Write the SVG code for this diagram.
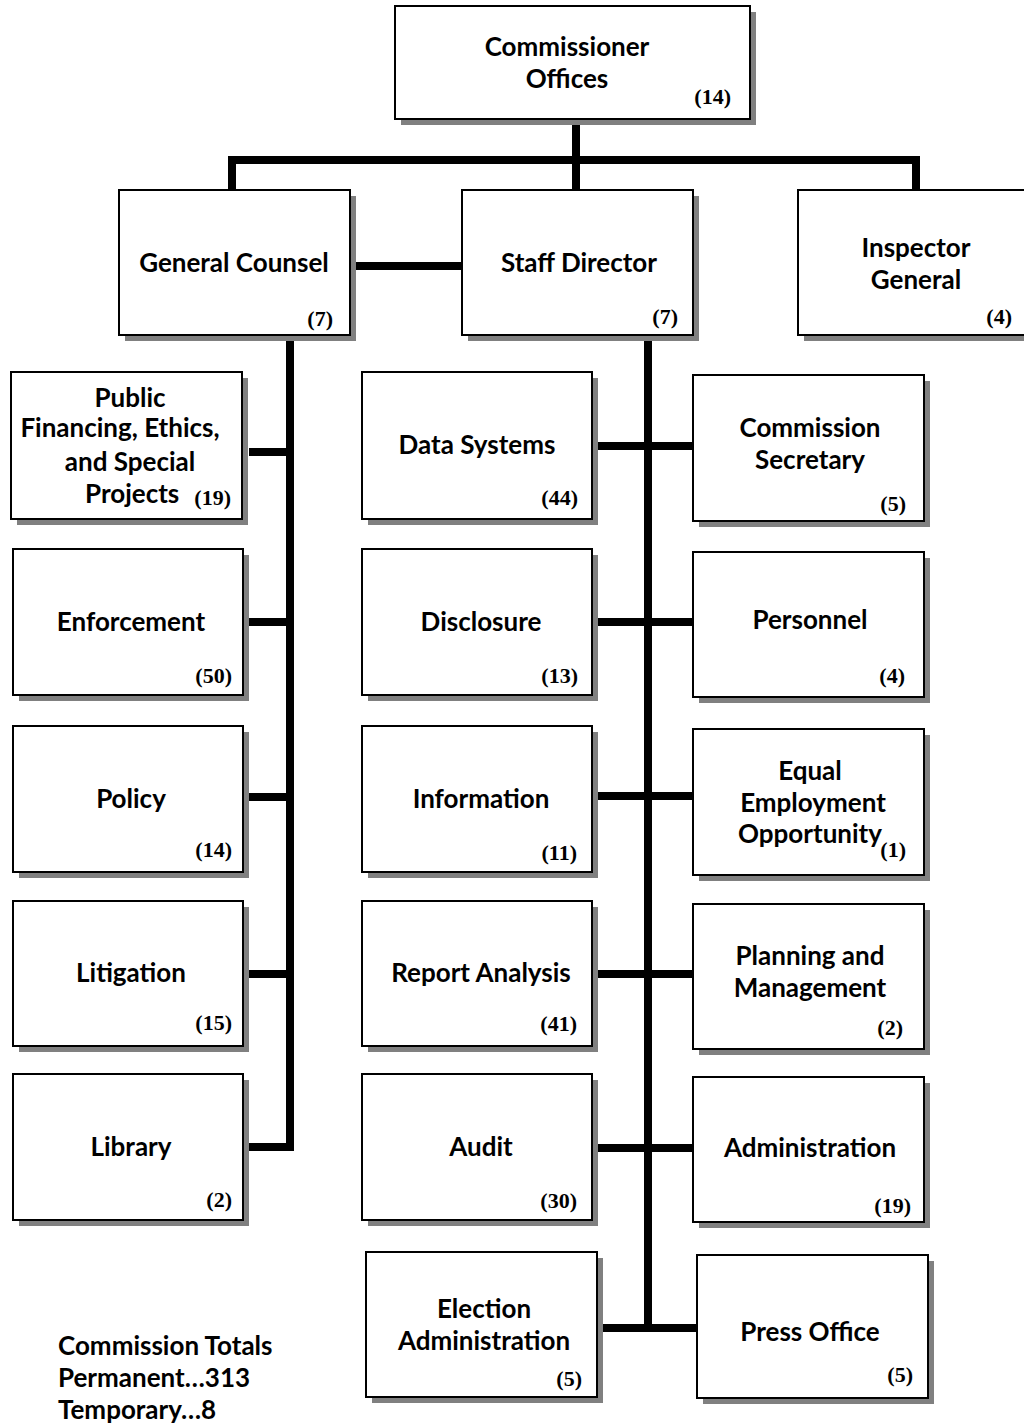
<svg xmlns="http://www.w3.org/2000/svg" width="1024" height="1426" viewBox="0 0 1024 1426">
<style>
.sh{fill:#808080}
.bx{fill:#fff;stroke:#000;stroke-width:2}
.t{font-family:Lato,"Open Sans","Liberation Sans",sans-serif;font-weight:bold;font-size:26px;fill:#000;text-anchor:middle}
.tl{font-family:Lato,"Open Sans","Liberation Sans",sans-serif;font-weight:bold;font-size:26px;fill:#000}
.n{font-family:"Liberation Serif",serif;font-weight:bold;font-size:22px;fill:#000;text-anchor:end}
.c{stroke:#000;stroke-width:8;fill:none}
</style>
<rect width="1024" height="1426" fill="#fff"/>
<g id="connectors">
<line class="c" x1="576" y1="119" x2="576" y2="190"/>
<polyline class="c" points="232,190 232,160 916,160 916,190"/>
<line class="c" x1="350" y1="266" x2="462" y2="266"/>
<polyline class="c" points="290,335 290,1147 249,1147"/>
<line class="c" x1="249" y1="452" x2="290" y2="452"/>
<line class="c" x1="249" y1="622" x2="290" y2="622"/>
<line class="c" x1="249" y1="797" x2="290" y2="797"/>
<line class="c" x1="249" y1="974" x2="290" y2="974"/>
<line class="c" x1="648" y1="335" x2="648" y2="1328"/>
<line class="c" x1="598" y1="446" x2="693" y2="446"/>
<line class="c" x1="598" y1="622" x2="693" y2="622"/>
<line class="c" x1="598" y1="796" x2="693" y2="796"/>
<line class="c" x1="598" y1="974" x2="693" y2="974"/>
<line class="c" x1="598" y1="1148" x2="693" y2="1148"/>
<line class="c" x1="603" y1="1328" x2="697" y2="1328"/>
</g>
<g id="commissioner">
<rect class="sh" x="401" y="12" width="355" height="113"/>
<rect class="bx" x="395" y="6" width="355" height="113"/>
<text class="t" x="567" y="56">Commissioner</text>
<text class="t" x="567" y="88">Offices</text>
<text class="n" x="731" y="104">(14)</text>
</g>
<g id="general-counsel">
<rect class="sh" x="125" y="196" width="231" height="145"/>
<rect class="bx" x="119" y="190" width="231" height="145"/>
<text class="t" x="234" y="272">General Counsel</text>
<text class="n" x="333" y="326">(7)</text>
</g>
<g id="staff-director">
<rect class="sh" x="468" y="196" width="231" height="145"/>
<rect class="bx" x="462" y="190" width="231" height="145"/>
<text class="t" x="579" y="272">Staff Director</text>
<text class="n" x="678" y="324">(7)</text>
</g>
<g id="inspector-general">
<rect class="sh" x="804" y="196" width="240" height="145"/>
<rect class="bx" x="798" y="190" width="240" height="145"/>
<text class="t" x="916" y="257">Inspector</text>
<text class="t" x="916" y="289">General</text>
<text class="n" x="1012" y="324">(4)</text>
</g>
<g id="public-financing">
<rect class="sh" x="17" y="378" width="231" height="147"/>
<rect class="bx" x="11" y="372" width="231" height="147"/>
<text class="t" x="130" y="407">Public</text>
<text class="t" x="120" y="437">Financing, Ethics,</text>
<text class="t" x="130" y="471">and Special</text>
<text class="tl" x="85" y="503">Projects</text>
<text class="n" x="231" y="505">(19)</text>
</g>
<g id="enforcement">
<rect class="sh" x="19" y="555" width="230" height="146"/>
<rect class="bx" x="13" y="549" width="230" height="146"/>
<text class="t" x="131" y="631">Enforcement</text>
<text class="n" x="232" y="683">(50)</text>
</g>
<g id="policy">
<rect class="sh" x="19" y="732" width="230" height="146"/>
<rect class="bx" x="13" y="726" width="230" height="146"/>
<text class="t" x="131" y="808">Policy</text>
<text class="n" x="232" y="857">(14)</text>
</g>
<g id="litigation">
<rect class="sh" x="19" y="907" width="230" height="145"/>
<rect class="bx" x="13" y="901" width="230" height="145"/>
<text class="t" x="131" y="982">Litigation</text>
<text class="n" x="232" y="1030">(15)</text>
</g>
<g id="library">
<rect class="sh" x="19" y="1080" width="230" height="146"/>
<rect class="bx" x="13" y="1074" width="230" height="146"/>
<text class="t" x="131" y="1156">Library</text>
<text class="n" x="232" y="1207">(2)</text>
</g>
<g id="data-systems">
<rect class="sh" x="368" y="378" width="230" height="147"/>
<rect class="bx" x="362" y="372" width="230" height="147"/>
<text class="t" x="477" y="454">Data Systems</text>
<text class="n" x="578" y="505">(44)</text>
</g>
<g id="disclosure">
<rect class="sh" x="368" y="555" width="230" height="146"/>
<rect class="bx" x="362" y="549" width="230" height="146"/>
<text class="t" x="481" y="631">Disclosure</text>
<text class="n" x="578" y="683">(13)</text>
</g>
<g id="information">
<rect class="sh" x="368" y="732" width="230" height="146"/>
<rect class="bx" x="362" y="726" width="230" height="146"/>
<text class="t" x="481" y="808">Information</text>
<text class="n" x="577" y="860">(11)</text>
</g>
<g id="report-analysis">
<rect class="sh" x="368" y="907" width="230" height="145"/>
<rect class="bx" x="362" y="901" width="230" height="145"/>
<text class="t" x="481" y="982">Report Analysis</text>
<text class="n" x="577" y="1031">(41)</text>
</g>
<g id="audit">
<rect class="sh" x="368" y="1080" width="230" height="146"/>
<rect class="bx" x="362" y="1074" width="230" height="146"/>
<text class="t" x="481" y="1156">Audit</text>
<text class="n" x="577" y="1208">(30)</text>
</g>
<g id="election-administration">
<rect class="sh" x="372" y="1258" width="231" height="145"/>
<rect class="bx" x="366" y="1252" width="231" height="145"/>
<text class="t" x="484" y="1318">Election</text>
<text class="t" x="484" y="1350">Administration</text>
<text class="n" x="582" y="1386">(5)</text>
</g>
<g id="commission-secretary">
<rect class="sh" x="699" y="381" width="231" height="146"/>
<rect class="bx" x="693" y="375" width="231" height="146"/>
<text class="t" x="810" y="437">Commission</text>
<text class="t" x="810" y="469">Secretary</text>
<text class="n" x="906" y="511">(5)</text>
</g>
<g id="personnel">
<rect class="sh" x="699" y="558" width="231" height="145"/>
<rect class="bx" x="693" y="552" width="231" height="145"/>
<text class="t" x="810" y="629">Personnel</text>
<text class="n" x="905" y="683">(4)</text>
</g>
<g id="eeo">
<rect class="sh" x="699" y="735" width="231" height="146"/>
<rect class="bx" x="693" y="729" width="231" height="146"/>
<text class="t" x="810" y="780">Equal</text>
<text class="t" x="813" y="812">Employment</text>
<text class="tl" x="738" y="843">Opportunity</text>
<text class="n" x="906" y="857">(1)</text>
</g>
<g id="planning-management">
<rect class="sh" x="699" y="910" width="231" height="145"/>
<rect class="bx" x="693" y="904" width="231" height="145"/>
<text class="t" x="810" y="965">Planning and</text>
<text class="t" x="810" y="997">Management</text>
<text class="n" x="903" y="1035">(2)</text>
</g>
<g id="administration">
<rect class="sh" x="699" y="1083" width="231" height="145"/>
<rect class="bx" x="693" y="1077" width="231" height="145"/>
<text class="t" x="810" y="1157">Administration</text>
<text class="n" x="911" y="1213">(19)</text>
</g>
<g id="press-office">
<rect class="sh" x="703" y="1261" width="231" height="143"/>
<rect class="bx" x="697" y="1255" width="231" height="143"/>
<text class="t" x="810" y="1341">Press Office</text>
<text class="n" x="913" y="1382">(5)</text>
</g>
<g id="totals">
<text class="tl" x="58" y="1355">Commission Totals</text>
<text class="tl" x="58" y="1387">Permanent…313</text>
<text class="tl" x="58" y="1419">Temporary…8</text>
</g>
</svg>
